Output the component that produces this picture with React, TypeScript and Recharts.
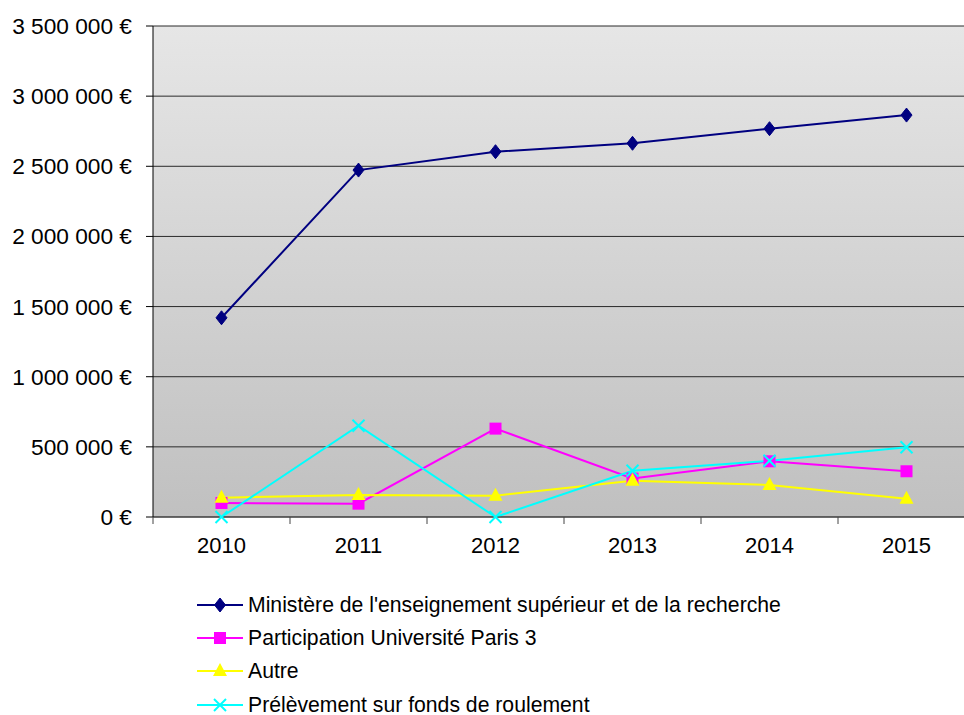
import { LineChart, Line, XAxis, YAxis, CartesianGrid, Legend } from "recharts"

const years = [2010, 2011, 2012, 2013, 2014, 2015]
const ministere = [1420000, 2473000, 2604000, 2664000, 2768000, 2865000]
const participation = [100000, 95000, 630000, 274000, 397000, 326000]
const autre = [138000, 157000, 152000, 259000, 228000, 130000]
const prelevement = [0, 651000, 0, 330000, 401000, 497000]

const yTicks = [0, 500000, 1000000, 1500000, 2000000, 2500000, 3000000, 3500000]
const xTicks = [2009.5, 2010, 2010.5, 2011, 2011.5, 2012, 2012.5, 2013, 2013.5, 2014, 2014.5, 2015, 2015.5]

const series = [
  { key: "ministere", name: "Ministère de l'enseignement supérieur et de la recherche", color: "#000080", shape: "diamond" },
  { key: "participation", name: "Participation Université Paris 3", color: "#ff00ff", shape: "square" },
  { key: "autre", name: "Autre", color: "#ffff00", shape: "triangle" },
  { key: "prelevement", name: "Prélèvement sur fonds de roulement", color: "#00ffff", shape: "cross" },
]

const data = years.map((year, i) => ({
  year,
  ministere: ministere[i],
  participation: participation[i],
  autre: autre[i],
  prelevement: prelevement[i],
}))

const FONT = "'Liberation Sans', Arial, sans-serif"

const fmtEuro = (v: number) => String(v).replace(/\B(?=(\d{3})+(?!\d))/g, " ") + " €"

function Marker({ shape, color, cx, cy }: { shape: string; color: string; cx: number; cy: number }) {
  if (cx == null || cy == null) return null
  if (shape === "diamond")
    return <polygon points={`${cx},${cy - 7} ${cx + 5.5},${cy} ${cx},${cy + 7} ${cx - 5.5},${cy}`} fill={color} stroke={color} />
  if (shape === "square") return <rect x={cx - 6} y={cy - 6} width={12} height={12} fill={color} />
  if (shape === "triangle")
    return <polygon points={`${cx},${cy - 8} ${cx + 7},${cy + 5} ${cx - 7},${cy + 5}`} fill={color} />
  return (
    <g stroke={color} strokeWidth={2}>
      <line x1={cx - 6} y1={cy - 6} x2={cx + 6} y2={cy + 6} />
      <line x1={cx - 6} y1={cy + 6} x2={cx + 6} y2={cy - 6} />
    </g>
  )
}

const XTick = (props: any) => {
  const { x, y, payload } = props
  const v = payload.value
  if (Number.isInteger(v))
    return (
      <text x={x} y={y + 36} textAnchor="middle" fontSize={22} fontFamily={FONT} fill="#000">
        {v}
      </text>
    )
  return <line x1={x} x2={x} y1={y} y2={y + 7} stroke="#444" />
}

const LegendBox = () => (
  <div style={{ height: 132, fontFamily: FONT, fontSize: 21.2, color: "#000" }}>
    {series.map((s) => (
      <div key={s.key} style={{ height: 33.3, display: "flex", alignItems: "center", marginLeft: 197 }}>
        <svg width={51} height={20}>
          <line x1={0} x2={46} y1={10} y2={10} stroke={s.color} strokeWidth={2} />
          <Marker shape={s.shape} color={s.color} cx={23} cy={10} />
        </svg>
        <span>{s.name}</span>
      </div>
    ))}
  </div>
)

export default function App() {
  return (
    <div style={{ position: "absolute", left: 0, top: 0, width: 964, height: 715, overflow: "hidden", background: "#fff" }}>
      <LineChart width={980} height={715} data={data} margin={{ top: 26, right: 5, left: 0, bottom: 26 }}>
        <defs>
          <linearGradient id="plotBg" x1="0" y1="0" x2="0" y2="1">
            <stop offset="0%" stopColor="#e6e6e6" />
            <stop offset="100%" stopColor="#c0c0c0" />
          </linearGradient>
        </defs>
        <CartesianGrid vertical={false} stroke="#2a2a2a" fill="url(#plotBg)" fillOpacity={1} />
        <XAxis
          dataKey="year"
          type="number"
          domain={[2009.5, 2015.5]}
          ticks={xTicks}
          interval={0}
          height={40}
          tickSize={0}
          tickMargin={0}
          tick={<XTick />}
          axisLine={{ stroke: "#444" }}
        />
        <YAxis
          domain={[0, 3500000]}
          ticks={yTicks}
          interval={0}
          width={153}
          tickSize={7}
          tickMargin={14}
          tickFormatter={fmtEuro}
          tick={{ fontSize: 22.7, fontFamily: FONT, fill: "#000" }}
          axisLine={{ stroke: "#000" }}
          tickLine={{ stroke: "#000" }}
        />
        <Legend content={<LegendBox />} wrapperStyle={{ top: 588, left: 0, bottom: "auto" }} />
        {series.map((s) => (
          <Line
            key={s.key}
            type="linear"
            dataKey={s.key}
            name={s.name}
            stroke={s.color}
            strokeWidth={2}
            isAnimationActive={false}
            dot={(p: any) => <Marker key={p.index} shape={s.shape} color={s.color} cx={p.cx} cy={p.cy} />}
            activeDot={false}
          />
        ))}
      </LineChart>
    </div>
  )
}
